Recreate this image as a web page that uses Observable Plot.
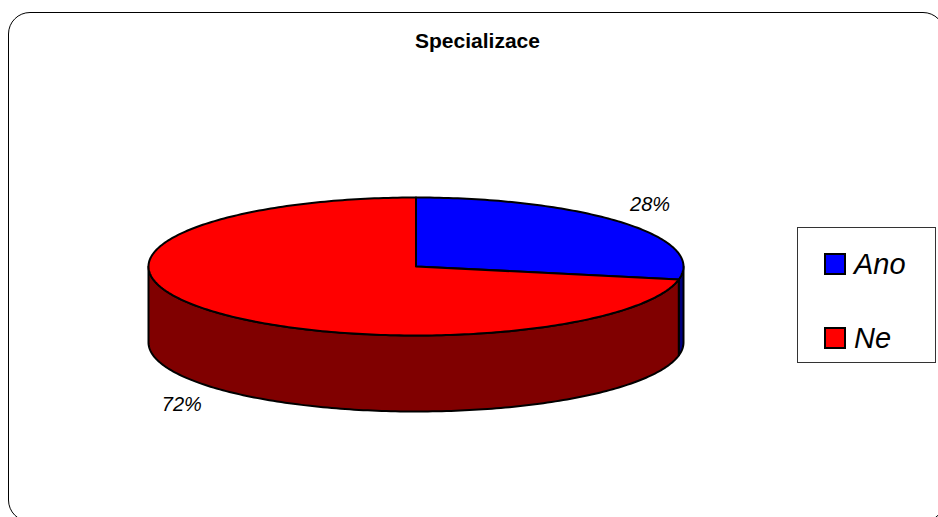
<!DOCTYPE html>
<html>
<head>
<meta charset="utf-8">
<script src="https://cdn.jsdelivr.net/npm/d3@7"></script>
<script src="https://cdn.jsdelivr.net/npm/@observablehq/plot@0.6"></script>
<style>
  html, body { margin: 0; padding: 0; background: #fff; overflow: hidden; }
  #wrap { position: relative; width: 938px; height: 517px; overflow: hidden; font-family: "Liberation Sans", Arial, sans-serif; }
  #frame { position: absolute; left: 8px; top: 12px; width: 937px; height: 510px; border: 1.5px solid #000; border-radius: 22px; box-sizing: border-box; }
  #title { position: absolute; left: 0; width: 955px; top: 29px; text-align: center; font-weight: bold; font-size: 21px; color: #000; }
  #chart { position: absolute; left: 0; top: 0; }
  #legend { position: absolute; left: 797px; top: 227px; width: 139px; height: 136px; border: 1px solid #333; box-sizing: border-box; background: #fff; }
  .item { position: absolute; left: 26px; height: 34px; display: flex; align-items: center; }
  .sw { width: 18px; height: 18px; border: 2px solid #000; margin-right: 8px; }
  .lab { font-style: italic; font-size: 29px; color: #000; }
</style>
</head>
<body>
<div id="wrap">
  <div id="frame"></div>
  <div id="chart"></div>
  <div id="title">Specializace</div>
  <div id="legend"></div>
</div>
<script>
// Chart data
const categories = ["Ano", "Ne"];
const shares = [28, 72];
const shareLabels = ["28%", "72%"];
const topColors = ["#0000ff", "#ff0000"];
const sideColors = ["#000080", "#800000"];

// 3D pie geometry (pixels)
const cx = 415.5, cy = 266, rx = 267.5, ry = 69, depth = 76;
const d = depth / ry; // wall height in y units

const arcs = d3.pie().sort(null).value(v => v)(shares);

// points along the rim; angle measured clockwise from 12 o'clock
const rim = (a, b, off = 0) => {
  const n = Math.max(2, Math.ceil(Math.abs(b - a) / (Math.PI / 180)));
  return d3.range(n + 1).map(i => {
    const t = a + (b - a) * i / n;
    return {x: Math.sin(t), y: -Math.cos(t) + off};
  });
};

// side walls: only the front half (between 3 and 9 o'clock) is visible
const walls = arcs.map((s, i) => {
  const a = Math.max(s.startAngle, Math.PI / 2);
  const b = Math.min(s.endAngle, 3 * Math.PI / 2);
  if (b <= a) return null;
  const pts = [...rim(a, b), ...rim(b, a, d)];
  pts.push(pts[0]);
  return {i, pts};
}).filter(Boolean);

// top faces: wedge from the centre
const faces = arcs.map((s, i) => {
  const pts = [{x: 0, y: 0}, ...rim(s.startAngle, s.endAngle), {x: 0, y: 0}];
  return {i, pts};
});

// percentage labels just outside each slice
const labelData = arcs.map((s, i) => {
  const m = (s.startAngle + s.endAngle) / 2;
  const ex = Math.sin(m), ey = -Math.cos(m);
  const front = ey > 0;
  return {
    x: ex + Math.sign(ex) * 28 / rx,
    y: ey + (front ? d : 0) + (front ? 1 : -1) * 18 / ry,
    text: shareLabels[i]
  };
});

const marks = [];
for (const w of walls) {
  marks.push(Plot.line(w.pts, {x: "x", y: "y", fill: sideColors[w.i], stroke: "#000", strokeWidth: 2, strokeLinejoin: "round"}));
}
for (const f of faces) {
  marks.push(Plot.line(f.pts, {x: "x", y: "y", fill: topColors[f.i], stroke: "#000", strokeWidth: 2, strokeLinejoin: "round"}));
}
marks.push(Plot.text(labelData, {x: "x", y: "y", text: "text", fontSize: 20, fontStyle: "italic", fill: "#000", textAnchor: "middle", lineAnchor: "middle"}));

const svg = Plot.plot({
  width: 938,
  height: 517,
  margin: 0,
  x: {domain: [-1, 1], range: [cx - rx, cx + rx], axis: null},
  y: {domain: [-1, 1], range: [cy - ry, cy + ry], axis: null},
  style: {background: "transparent", fontFamily: "Liberation Sans, Arial, sans-serif", overflow: "visible"},
  marks
});
document.getElementById("chart").appendChild(svg);

// legend
const legend = document.getElementById("legend");
categories.forEach((c, i) => {
  const item = document.createElement("div");
  item.className = "item";
  item.style.top = (i === 0 ? 19 : 93) + "px";
  const sw = document.createElement("div");
  sw.className = "sw";
  sw.style.background = topColors[i];
  const lab = document.createElement("span");
  lab.className = "lab";
  lab.textContent = c;
  item.appendChild(sw);
  item.appendChild(lab);
  legend.appendChild(item);
});
</script>
</body>
</html>
